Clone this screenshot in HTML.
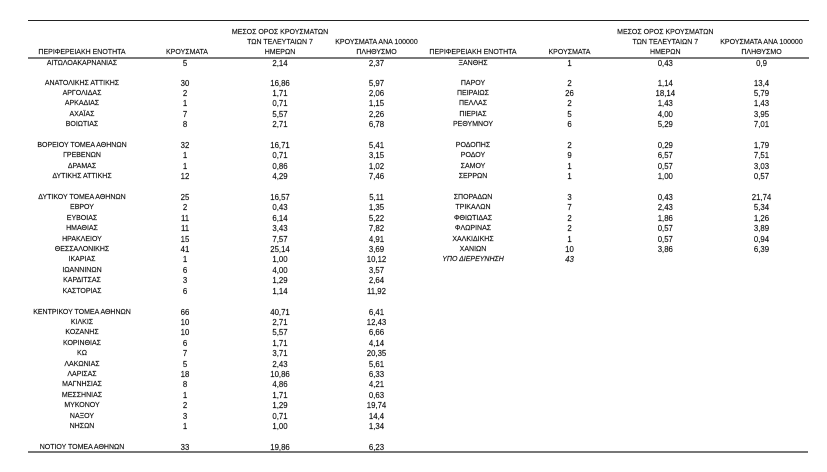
<!DOCTYPE html>
<html>
<head>
<meta charset="utf-8">
<style>
html,body{margin:0;padding:0;background:#fff;}
body{width:827px;height:472px;position:relative;overflow:hidden;font-family:"Liberation Sans","Noto Sans CJK SC",sans-serif;color:#111;}
.r{position:absolute;left:0;width:827px;height:10px;}
.r span{position:absolute;top:0;width:160px;margin-left:-80px;text-align:center;line-height:10px;height:10px;white-space:nowrap;font-size:7px;-webkit-text-stroke:0.15px #111;}
.r span.n{font-size:7.8px;}
.a{left:82px}.b{left:185px}.c{left:280px}.d{left:376.5px}
.e{left:473px}.f{left:569.5px}.g{left:665.3px}.h{left:761.5px}
.hb{left:187px}
.i{font-style:italic}
.line{position:absolute;}
</style>
</head>
<body>
<div class="line" style="left:28px;top:19.5px;width:781px;height:1.5px;background:#222;"></div>
<div class="line" style="left:28px;top:57px;width:781px;height:2px;background:#7a7a7a;"></div>
<div class="line" style="left:28px;top:451px;width:780px;height:2px;background:#777;"></div>

<!-- headers -->
<div class="r" style="top:28.3px"><span class="c">ΜΕΣΟΣ ΟΡΟΣ ΚΡΟΥΣΜΑΤΩΝ</span><span class="g">ΜΕΣΟΣ ΟΡΟΣ ΚΡΟΥΣΜΑΤΩΝ</span></div>
<div class="r" style="top:38.3px"><span class="c">ΤΩΝ ΤΕΛΕΥΤΑΙΩΝ 7</span><span class="d">ΚΡΟΥΣΜΑΤΑ ΑΝΑ 100000</span><span class="g">ΤΩΝ ΤΕΛΕΥΤΑΙΩΝ 7</span><span class="h">ΚΡΟΥΣΜΑΤΑ ΑΝΑ 100000</span></div>
<div class="r" style="top:48px"><span class="a">ΠΕΡΙΦΕΡΕΙΑΚΗ ΕΝΟΤΗΤΑ</span><span class="hb">ΚΡΟΥΣΜΑΤΑ</span><span class="c">ΗΜΕΡΩΝ</span><span class="d">ΠΛΗΘΥΣΜΟ</span><span class="e">ΠΕΡΙΦΕΡΕΙΑΚΗ ΕΝΟΤΗΤΑ</span><span class="f">ΚΡΟΥΣΜΑΤΑ</span><span class="g">ΗΜΕΡΩΝ</span><span class="h">ΠΛΗΘΥΣΜΟ</span></div>

<!-- rows -->
<div class="r" style="top:58.5px"><span class="a">ΑΙΤΩΛΟΑΚΑΡΝΑΝΙΑΣ</span><span class="b n">5</span><span class="c n">2,14</span><span class="d n">2,37</span><span class="e">ΞΑΝΘΗΣ</span><span class="f n">1</span><span class="g n">0,43</span><span class="h n">0,9</span></div>
<div class="r" style="top:78.5px"><span class="a">ΑΝΑΤΟΛΙΚΗΣ ΑΤΤΙΚΗΣ</span><span class="b n">30</span><span class="c n">16,86</span><span class="d n">5,97</span><span class="e">ΠΑΡΟΥ</span><span class="f n">2</span><span class="g n">1,14</span><span class="h n">13,4</span></div>
<div class="r" style="top:88.91px"><span class="a">ΑΡΓΟΛΙΔΑΣ</span><span class="b n">2</span><span class="c n">1,71</span><span class="d n">2,06</span><span class="e">ΠΕΙΡΑΙΩΣ</span><span class="f n">26</span><span class="g n">18,14</span><span class="h n">5,79</span></div>
<div class="r" style="top:99.32px"><span class="a">ΑΡΚΑΔΙΑΣ</span><span class="b n">1</span><span class="c n">0,71</span><span class="d n">1,15</span><span class="e">ΠΕΛΛΑΣ</span><span class="f n">2</span><span class="g n">1,43</span><span class="h n">1,43</span></div>
<div class="r" style="top:109.73px"><span class="a">ΑΧΑΪΑΣ</span><span class="b n">7</span><span class="c n">5,57</span><span class="d n">2,26</span><span class="e">ΠΙΕΡΙΑΣ</span><span class="f n">5</span><span class="g n">4,00</span><span class="h n">3,95</span></div>
<div class="r" style="top:120.14px"><span class="a">ΒΟΙΩΤΙΑΣ</span><span class="b n">8</span><span class="c n">2,71</span><span class="d n">6,78</span><span class="e">ΡΕΘΥΜΝΟΥ</span><span class="f n">6</span><span class="g n">5,29</span><span class="h n">7,01</span></div>

<div class="r" style="top:140.96px"><span class="a">ΒΟΡΕΙΟΥ ΤΟΜΕΑ ΑΘΗΝΩΝ</span><span class="b n">32</span><span class="c n">16,71</span><span class="d n">5,41</span><span class="e">ΡΟΔΟΠΗΣ</span><span class="f n">2</span><span class="g n">0,29</span><span class="h n">1,79</span></div>
<div class="r" style="top:151.37px"><span class="a">ΓΡΕΒΕΝΩΝ</span><span class="b n">1</span><span class="c n">0,71</span><span class="d n">3,15</span><span class="e">ΡΟΔΟΥ</span><span class="f n">9</span><span class="g n">6,57</span><span class="h n">7,51</span></div>
<div class="r" style="top:161.78px"><span class="a">ΔΡΑΜΑΣ</span><span class="b n">1</span><span class="c n">0,86</span><span class="d n">1,02</span><span class="e">ΣΑΜΟΥ</span><span class="f n">1</span><span class="g n">0,57</span><span class="h n">3,03</span></div>
<div class="r" style="top:172.19px"><span class="a">ΔΥΤΙΚΗΣ ΑΤΤΙΚΗΣ</span><span class="b n">12</span><span class="c n">4,29</span><span class="d n">7,46</span><span class="e">ΣΕΡΡΩΝ</span><span class="f n">1</span><span class="g n">1,00</span><span class="h n">0,57</span></div>

<div class="r" style="top:193.01px"><span class="a">ΔΥΤΙΚΟΥ ΤΟΜΕΑ ΑΘΗΝΩΝ</span><span class="b n">25</span><span class="c n">16,57</span><span class="d n">5,11</span><span class="e">ΣΠΟΡΑΔΩΝ</span><span class="f n">3</span><span class="g n">0,43</span><span class="h n">21,74</span></div>
<div class="r" style="top:203.42px"><span class="a">ΕΒΡΟΥ</span><span class="b n">2</span><span class="c n">0,43</span><span class="d n">1,35</span><span class="e">ΤΡΙΚΑΛΩΝ</span><span class="f n">7</span><span class="g n">2,43</span><span class="h n">5,34</span></div>
<div class="r" style="top:213.83px"><span class="a">ΕΥΒΟΙΑΣ</span><span class="b n">11</span><span class="c n">6,14</span><span class="d n">5,22</span><span class="e">ΦΘΙΩΤΙΔΑΣ</span><span class="f n">2</span><span class="g n">1,86</span><span class="h n">1,26</span></div>
<div class="r" style="top:224.24px"><span class="a">ΗΜΑΘΙΑΣ</span><span class="b n">11</span><span class="c n">3,43</span><span class="d n">7,82</span><span class="e">ΦΛΩΡΙΝΑΣ</span><span class="f n">2</span><span class="g n">0,57</span><span class="h n">3,89</span></div>
<div class="r" style="top:234.65px"><span class="a">ΗΡΑΚΛΕΙΟΥ</span><span class="b n">15</span><span class="c n">7,57</span><span class="d n">4,91</span><span class="e">ΧΑΛΚΙΔΙΚΗΣ</span><span class="f n">1</span><span class="g n">0,57</span><span class="h n">0,94</span></div>
<div class="r" style="top:245.06px"><span class="a">ΘΕΣΣΑΛΟΝΙΚΗΣ</span><span class="b n">41</span><span class="c n">25,14</span><span class="d n">3,69</span><span class="e">ΧΑΝΙΩΝ</span><span class="f n">10</span><span class="g n">3,86</span><span class="h n">6,39</span></div>
<div class="r" style="top:255.47px"><span class="a">ΙΚΑΡΙΑΣ</span><span class="b n">1</span><span class="c n">1,00</span><span class="d n">10,12</span><span class="e i">ΥΠΟ ΔΙΕΡΕΥΝΗΣΗ</span><span class="f n i">43</span></div>
<div class="r" style="top:265.88px"><span class="a">ΙΩΑΝΝΙΝΩΝ</span><span class="b n">6</span><span class="c n">4,00</span><span class="d n">3,57</span></div>
<div class="r" style="top:276.29px"><span class="a">ΚΑΡΔΙΤΣΑΣ</span><span class="b n">3</span><span class="c n">1,29</span><span class="d n">2,64</span></div>
<div class="r" style="top:286.7px"><span class="a">ΚΑΣΤΟΡΙΑΣ</span><span class="b n">6</span><span class="c n">1,14</span><span class="d n">11,92</span></div>

<div class="r" style="top:307.52px"><span class="a">ΚΕΝΤΡΙΚΟΥ ΤΟΜΕΑ ΑΘΗΝΩΝ</span><span class="b n">66</span><span class="c n">40,71</span><span class="d n">6,41</span></div>
<div class="r" style="top:317.93px"><span class="a">ΚΙΛΚΙΣ</span><span class="b n">10</span><span class="c n">2,71</span><span class="d n">12,43</span></div>
<div class="r" style="top:328.34px"><span class="a">ΚΟΖΑΝΗΣ</span><span class="b n">10</span><span class="c n">5,57</span><span class="d n">6,66</span></div>
<div class="r" style="top:338.75px"><span class="a">ΚΟΡΙΝΘΙΑΣ</span><span class="b n">6</span><span class="c n">1,71</span><span class="d n">4,14</span></div>
<div class="r" style="top:349.16px"><span class="a">ΚΩ</span><span class="b n">7</span><span class="c n">3,71</span><span class="d n">20,35</span></div>
<div class="r" style="top:359.57px"><span class="a">ΛΑΚΩΝΙΑΣ</span><span class="b n">5</span><span class="c n">2,43</span><span class="d n">5,61</span></div>
<div class="r" style="top:369.98px"><span class="a">ΛΑΡΙΣΑΣ</span><span class="b n">18</span><span class="c n">10,86</span><span class="d n">6,33</span></div>
<div class="r" style="top:380.39px"><span class="a">ΜΑΓΝΗΣΙΑΣ</span><span class="b n">8</span><span class="c n">4,86</span><span class="d n">4,21</span></div>
<div class="r" style="top:390.8px"><span class="a">ΜΕΣΣΗΝΙΑΣ</span><span class="b n">1</span><span class="c n">1,71</span><span class="d n">0,63</span></div>
<div class="r" style="top:401.21px"><span class="a">ΜΥΚΟΝΟΥ</span><span class="b n">2</span><span class="c n">1,29</span><span class="d n">19,74</span></div>
<div class="r" style="top:411.62px"><span class="a">ΝΑΞΟΥ</span><span class="b n">3</span><span class="c n">0,71</span><span class="d n">14,4</span></div>
<div class="r" style="top:422.03px"><span class="a">ΝΗΣΩΝ</span><span class="b n">1</span><span class="c n">1,00</span><span class="d n">1,34</span></div>

<div class="r" style="top:442.85px"><span class="a">ΝΟΤΙΟΥ ΤΟΜΕΑ ΑΘΗΝΩΝ</span><span class="b n">33</span><span class="c n">19,86</span><span class="d n">6,23</span></div>
</body>
</html>
